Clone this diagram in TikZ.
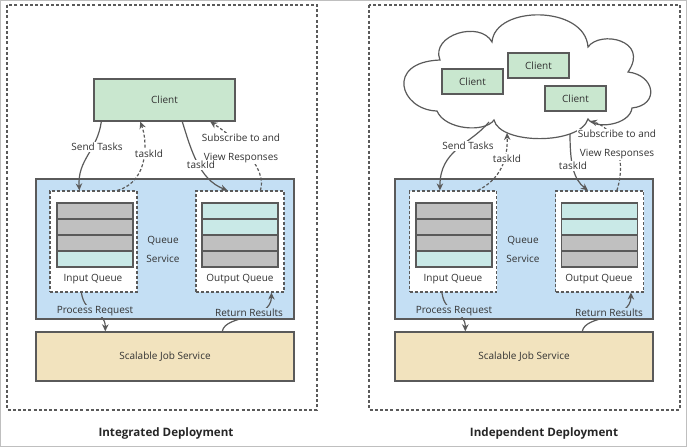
\documentclass[tikz,border=0pt]{standalone}
\usepackage{fontspec}
\setmainfont{Open Sans}
\usetikzlibrary{arrows.meta,calc}

\definecolor{clientgreen}{RGB}{201,231,207}
\definecolor{queueblue}{RGB}{196,223,244}
\definecolor{jobtan}{RGB}{242,227,190}
\definecolor{bargray}{RGB}{192,192,192}
\definecolor{barcyan}{RGB}{201,233,231}
\definecolor{edgegray}{RGB}{90,90,90}
\definecolor{textgray}{RGB}{50,50,50}

\begin{document}
\begin{tikzpicture}[x=1pt,y=-1pt]
    \tikzset{
        box/.style={draw=edgegray,line width=1.4pt,inner sep=0pt,text=textgray,font=\fontsize{10}{12}\selectfont},
        client/.style={box,fill=clientgreen},
        queuesvc/.style={box,fill=queueblue,minimum width=258pt,minimum height=140pt},
        jobsvc/.style={box,fill=jobtan,minimum width=258pt,minimum height=49pt},
        queuebox/.style={draw=edgegray,line width=1.2pt,dash pattern=on 3pt off 2pt,fill=white,minimum height=101pt,inner sep=0pt},
        bar/.style={box,minimum width=76pt,minimum height=16pt},
        frame/.style={draw=edgegray,line width=1.2pt,dash pattern=on 3pt off 2.2pt},
        lbl/.style={fill=white,inner sep=1pt,text=textgray,font=\fontsize{10}{12}\selectfont},
        bluelbl/.style={lbl,fill=queueblue},
        twolines/.style={lbl,align=center,font=\fontsize{10}{19}\selectfont},
        caption/.style={text=black!85,font=\bfseries\fontsize{11.6}{14}\selectfont},
        flow/.style={draw=edgegray,line width=1.2pt,-{Stealth[length=7pt,width=6.5pt]}},
        reply/.style={flow,dash pattern=on 3pt off 2pt},
        cloudline/.style={draw=edgegray,line width=1.2pt,fill=white}
    }
    \useasboundingbox (0,0) rectangle (687,447);
    \draw[draw=black!25] (0.5,0.5) rectangle (686.5,446.5);

    \draw[frame] (7,5) rectangle (317,410);
    \draw[frame] (369,5) rectangle (680,410);

    \node[client,minimum width=141pt,minimum height=42pt] (clientL) at (164.5,100) {Client};
    \node[queuesvc] (qsL) at (165,249) {};
    \node[queuebox,minimum width=87pt] (iqL) at (93.5,241.5) {};
    \node[queuebox,minimum width=88pt] (oqL) at (240,241.5) {};
    \node[bar,fill=bargray] (iqL1) at (95,211) {};
    \node[bar,fill=bargray] (iqL2) at (95,227) {};
    \node[bar,fill=bargray] (iqL3) at (95,243) {};
    \node[bar,fill=barcyan] (iqL4) at (95,259) {};
    \node[bar,fill=barcyan] (oqL1) at (240,211) {};
    \node[bar,fill=barcyan] (oqL2) at (240,227) {};
    \node[bar,fill=bargray] (oqL3) at (240,243) {};
    \node[bar,fill=bargray] (oqL4) at (240,259) {};
    \node[jobsvc] (jobL) at (165,356.5) {Scalable Job Service};

    \draw[cloudline] (437,111) .. controls (400,110) and (385,62) .. (440,60) .. controls (430,35) and (480,20) .. (492,42) .. controls (495,5) and (585,5) .. (588,47) .. controls (600,30) and (650,40) .. (628,72) .. controls (655,75) and (660,105) .. (632,108) .. controls (630,125) and (595,130) .. (588,119) .. controls (580,145) and (500,145) .. (494,120) .. controls (485,133) and (445,130) .. (437,111) -- cycle;
    \coordinate (cloudSend) at (489,122);
    \coordinate (cloudTask) at (507,133);
    \coordinate (cloudPoll) at (570,134);
    \coordinate (cloudView) at (590,121);
    \node[client,minimum width=61pt,minimum height=25pt] (clientR1) at (472.5,81.5) {Client};
    \node[client,minimum width=61pt,minimum height=25pt] (clientR2) at (538.5,65.5) {Client};
    \node[client,minimum width=61pt,minimum height=25pt] (clientR3) at (575.5,98.5) {Client};
    \node[queuesvc] (qsR) at (524,249) {};
    \node[queuebox,minimum width=87pt] (iqR) at (453,241.5) {};
    \node[queuebox,minimum width=88pt] (oqR) at (599.5,241.5) {};
    \node[bar,fill=bargray] (iqR1) at (454,211) {};
    \node[bar,fill=bargray] (iqR2) at (454,227) {};
    \node[bar,fill=bargray] (iqR3) at (454,243) {};
    \node[bar,fill=barcyan] (iqR4) at (454,259) {};
    \node[bar,fill=barcyan] (oqR1) at (599.5,211) {};
    \node[bar,fill=barcyan] (oqR2) at (599.5,227) {};
    \node[bar,fill=bargray] (oqR3) at (599.5,243) {};
    \node[bar,fill=bargray] (oqR4) at (599.5,259) {};
    \node[jobsvc] (jobR) at (524,356.5) {Scalable Job Service};

    \draw[flow] ($(clientL.south west)+(8,0)$) .. controls +(-4,29) and +(-2,-31) .. ($(iqL.north west)+(30,0)$);
    \draw[reply] ($(iqL.north west)+(68,0)$) .. controls +(32,-9) and +(7,19) .. ($(clientL.south west)+(47,0)$);
    \draw[reply] ($(oqL.north west)+(65,0)$) .. controls +(7,-21) and +(29,19) .. ($(clientL.south west)+(117,0)$);
    \node[twolines] (subL) at (241,148.5) {Subscribe to and\\View Responses};
    \draw[flow] ($(clientL.south west)+(89,0)$) .. controls +(9,29) and +(-28,-11) .. ($(oqL.north west)+(32,0)$);
    \draw[flow] ($(iqL.south west)+(32,0)$) .. controls +(3,23) and +(0,-22) .. ($(jobL.north west)+(70,0)$);
    \draw[flow] ($(jobL.north west)+(187,0)$) .. controls +(3,-17) and +(0,28) .. ($(oqL.south west)+(76,0)$);
    \node[lbl] (sendL) at (97,147) {Send Tasks};
    \node[lbl] (taskL1) at (149,154) {taskId};
    \node[lbl] (taskL2) at (201,165) {taskId};
    \node[bluelbl] (procL) at (95,311) {Process Request};
    \node[bluelbl] (retL) at (249,313) {Return Results};

    \draw[flow] (cloudSend) .. controls +(-19,23) and +(0,-41) .. ($(iqR.north west)+(31,0)$);
    \draw[reply] ($(iqR.north west)+(69,0)$) .. controls +(22,-11) and +(1,27) .. (cloudTask);
    \draw[reply] ($(oqR.north west)+(62,0)$) .. controls +(10,-31) and +(25,7) .. (cloudView);
    \node[twolines] (subR) at (617,144.5) {Subscribe to and\\View Responses};
    \draw[flow] (cloudPoll) .. controls +(0,31) and +(-14,-11) .. ($(oqR.north west)+(33,0)$);
    \draw[flow] ($(iqR.south west)+(33,0)$) .. controls +(3,23) and +(0,-22) .. ($(jobR.north west)+(71,0)$);
    \draw[flow] ($(jobR.north west)+(188,0)$) .. controls +(3,-17) and +(0,28) .. ($(oqR.south west)+(76,0)$);
    \node[lbl] (sendR) at (468,146) {Send Tasks};
    \node[lbl] (taskR1) at (507,159) {taskId};
    \node[lbl] (taskR2) at (573,166) {taskId};
    \node[bluelbl] (procR) at (454,311) {Process Request};
    \node[bluelbl] (retR) at (609,313) {Return Results};

    \node[lbl,fill=queueblue,align=center,font=\fontsize{10}{19}\selectfont] (qsLtext) at (163,249.5) {Queue\\Service};
    \node[lbl,fill=queueblue,align=center,font=\fontsize{10}{19}\selectfont] (qsRtext) at (523,249.5) {Queue\\Service};
    \node[lbl] (iqLtext) at (93,279) {Input Queue};
    \node[lbl] (oqLtext) at (240,279) {Output Queue};
    \node[lbl] (iqRtext) at (453,279) {Input Queue};
    \node[lbl] (oqRtext) at (599,279) {Output Queue};

    \node[caption] (capL) at (166,433) {Integrated Deployment};
    \node[caption] (capR) at (544,433) {Independent Deployment};
\end{tikzpicture}
\end{document}
